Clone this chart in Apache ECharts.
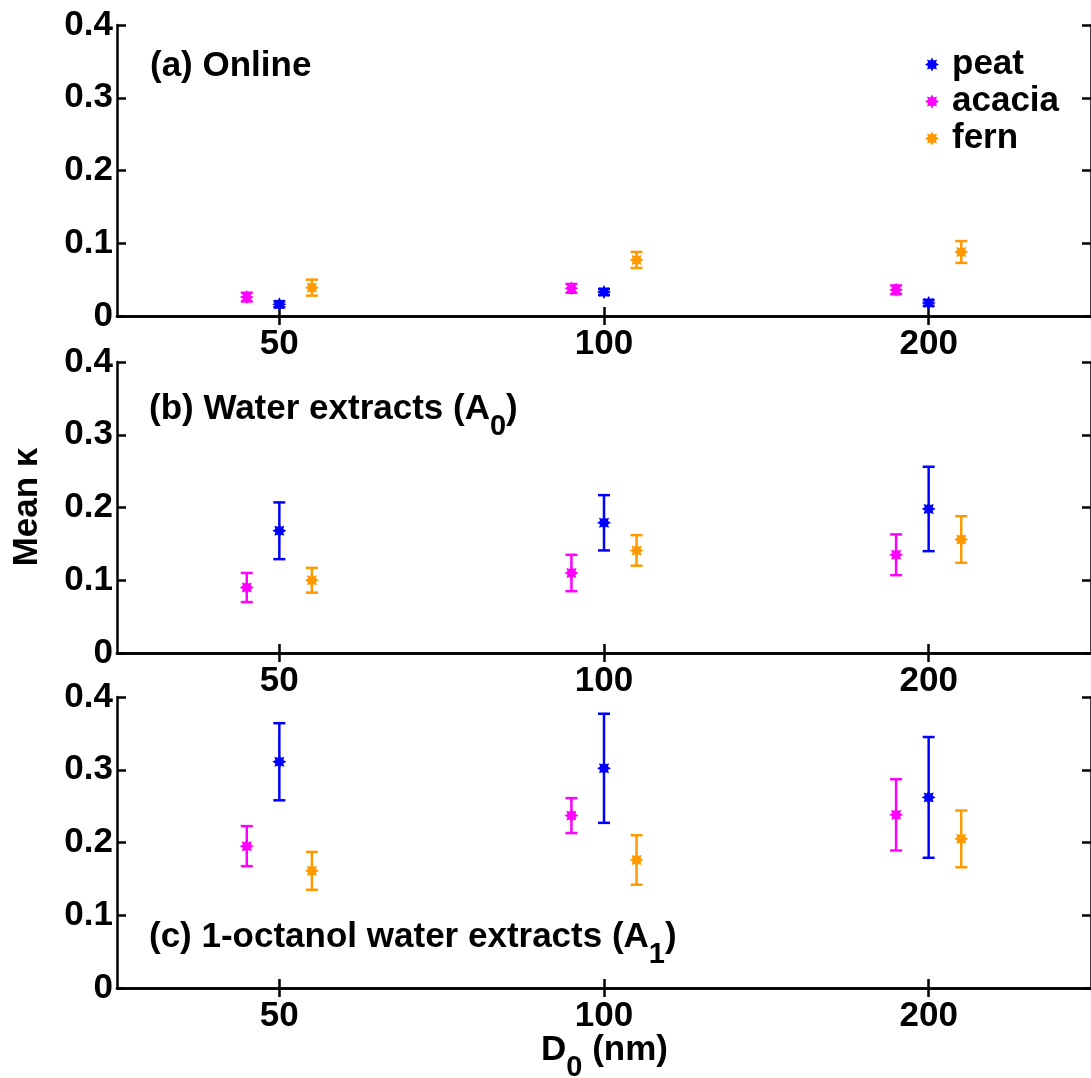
<!DOCTYPE html>
<html>
<head>
<meta charset="utf-8">
<script src="https://cdn.jsdelivr.net/npm/echarts@6/dist/echarts.min.js"></script>
<style>
html,body{margin:0;padding:0;background:#fff;}
#chart{width:1091px;height:1078px;}
</style>
</head>
<body>
<div id="chart"></div>
<script>
// ---------------- data ----------------
const diameters = [50, 100, 200];               // D0 (nm)
const xTicks = [50, 100, 200];
const yTicks = [0, 0.1, 0.2, 0.3, 0.4];
const seriesNames = ['peat', 'acacia', 'fern'];

// (a) Online
const onlinePeat = [0.016, 0.033, 0.018];
const onlinePeatErr = [0.004, 0.004, 0.004];
const onlineAcacia = [0.026, 0.038, 0.036];
const onlineAcaciaErr = [0.006, 0.006, 0.006];
const onlineFern = [0.039, 0.077, 0.088];
const onlineFernErr = [0.011, 0.011, 0.015];

// (b) Water extracts (A0)
const waterPeat = [0.168, 0.179, 0.198];
const waterPeatErr = [0.039, 0.038, 0.058];
const waterAcacia = [0.090, 0.110, 0.135];
const waterAcaciaErr = [0.020, 0.025, 0.028];
const waterFern = [0.100, 0.141, 0.156];
const waterFernErr = [0.017, 0.021, 0.032];

// (c) 1-octanol water extracts (A1)
const octPeat = [0.311, 0.302, 0.262];
const octPeatErr = [0.053, 0.075, 0.083];
const octAcacia = [0.195, 0.237, 0.238];
const octAcaciaErr = [0.0275, 0.024, 0.049];
const octFern = [0.161, 0.176, 0.205];
const octFernErr = [0.026, 0.034, 0.039];

// ---------------- styling ----------------
const FONT = '"Liberation Sans", Arial, Helvetica, sans-serif';
const FS = 35;
const colors = {peat: '#0000FF', acacia: '#FF00FF', fern: '#FF9900'};
const dodge = {peat: 1, acacia: 1 / 1.072, fern: 1.072};   // horizontal offset factor on log axis

function starPath() {
  const n = 8, R = 10, r = 6.2;
  let d = '';
  for (let i = 0; i < 2 * n; i++) {
    const ang = Math.PI * i / n - Math.PI / 2;
    const rad = i % 2 === 0 ? R : r;
    const x = (R + rad * Math.cos(ang)).toFixed(3);
    const y = (R + rad * Math.sin(ang)).toFixed(3);
    d += (i === 0 ? 'M' : 'L') + x + ' ' + y + ' ';
  }
  return 'path://' + d + 'Z';
}
const STAR = starPath();

const panels = [
  {peat: [onlinePeat, onlinePeatErr], acacia: [onlineAcacia, onlineAcaciaErr], fern: [onlineFern, onlineFernErr]},
  {peat: [waterPeat, waterPeatErr], acacia: [waterAcacia, waterAcaciaErr], fern: [waterFern, waterFernErr]},
  {peat: [octPeat, octPeatErr], acacia: [octAcacia, octAcaciaErr], fern: [octFern, octFernErr]}
];

const gridTops = [25, 362, 697];
const gridH = 291;
const xMin = 50 / Math.SQRT2, xMax = 200 * Math.SQRT2;

const grids = [], xAxes = [], yAxes = [], series = [];
const lineW = 2.5;

gridTops.forEach((top, i) => {
  grids.push({left: 117, right: -6, top: top, height: gridH, containLabel: false});
  const xBase = {
    gridIndex: i, type: 'log', logBase: 10, min: xMin, max: xMax,
    axisLine: {show: true, lineStyle: {color: '#000', width: lineW}},
    axisTick: {show: true, inside: true, length: 9, customValues: xTicks, lineStyle: {color: '#000', width: lineW}},
    splitLine: {show: false}, minorTick: {show: false}
  };
  xAxes.push(Object.assign({}, xBase, {
    position: 'bottom',
    axisLabel: {show: true, customValues: xTicks, margin: 11, color: '#000', fontSize: FS, fontWeight: 'bold', fontFamily: FONT}
  }));
  xAxes.push(Object.assign({}, xBase, {position: 'top', axisLabel: {show: false}}));
  const yBase = {
    gridIndex: i, type: 'value', min: 0, max: 0.4, interval: 0.1,
    axisLine: {show: true, lineStyle: {color: '#000', width: lineW}},
    axisTick: {show: true, inside: true, length: 9, lineStyle: {color: '#000', width: lineW}},
    splitLine: {show: false}
  };
  yAxes.push(Object.assign({}, yBase, {
    position: 'left',
    axisLabel: {show: true, margin: 4, color: '#000', fontSize: FS, fontWeight: 'bold', fontFamily: FONT,
      formatter: v => (Math.abs(v) < 1e-9 ? '0' : v.toFixed(1))}
  }));
  yAxes.push(Object.assign({}, yBase, {position: 'right', axisLabel: {show: false}}));

  seriesNames.forEach(name => {
    const [vals, errs] = panels[i][name];
    const errData = diameters.map((d, k) => [d * dodge[name], vals[k] - errs[k], vals[k] + errs[k]]);
    series.push({
      type: 'custom', name: name + '-err', xAxisIndex: 2 * i, yAxisIndex: 2 * i,
      encode: {x: 0, y: [1, 2]}, silent: true, z: 2,
      data: errData,
      renderItem: (params, api) => {
        const x = api.value(0), lo = api.value(1), hi = api.value(2);
        const pLo = api.coord([x, lo]), pHi = api.coord([x, hi]);
        const hw = 6;
        const st = {stroke: colors[name], lineWidth: 2.5};
        return {type: 'group', children: [
          {type: 'line', shape: {x1: pLo[0], y1: pLo[1], x2: pHi[0], y2: pHi[1]}, style: st},
          {type: 'line', shape: {x1: pLo[0] - hw, y1: pLo[1], x2: pLo[0] + hw, y2: pLo[1]}, style: st},
          {type: 'line', shape: {x1: pHi[0] - hw, y1: pHi[1], x2: pHi[0] + hw, y2: pHi[1]}, style: st}
        ]};
      }
    });
    series.push({
      type: 'scatter', name: name, xAxisIndex: 2 * i, yAxisIndex: 2 * i, z: 3,
      symbol: STAR, symbolSize: 14,
      itemStyle: {color: colors[name], opacity: 1},
      data: diameters.map((d, k) => [d * dodge[name], vals[k]])
    });
  });
});

const chart = echarts.init(document.getElementById('chart'), null, {renderer: 'canvas'});
const titleRich = {
  n: {fontSize: FS, fontWeight: 'bold', fontFamily: FONT, color: '#000', padding: [0, 0, 14, 0], verticalAlign: 'bottom'},
  s: {fontSize: 29, fontWeight: 'bold', fontFamily: FONT, color: '#000', verticalAlign: 'bottom'}
};
chart.setOption({
  animation: false,
  backgroundColor: '#fff',
  grid: grids,
  xAxis: xAxes,
  yAxis: yAxes,
  legend: {
    orient: 'vertical', left: 920, top: 42, itemWidth: 26, itemHeight: 14, itemGap: 2,
    data: seriesNames,
    textStyle: {fontSize: FS, fontWeight: 'bold', fontFamily: FONT, color: '#000', padding: [0, 0, 0, 2]}
  },
  graphic: [
    {type: 'text', left: 150, top: 49, style: {text: '(a) Online', font: 'bold ' + FS + 'px ' + FONT, fill: '#000'}},
    {type: 'text', left: 149, top: 392, style: {text: '{n|(b) Water extracts (A}{s|0}{n|)}', rich: titleRich}},
    {type: 'text', left: 149, top: 920, style: {text: '{n|(c) 1-octanol water extracts (A}{s|1}{n|)}', rich: titleRich}},
    {type: 'text', left: 541, top: 1033, style: {text: '{n|D}{s|0}{n| (nm)}', rich: titleRich}},
    {type: 'text', x: 27, y: 507, rotation: Math.PI / 2,
      style: {text: 'Mean κ', font: 'bold ' + FS + 'px ' + FONT, fill: '#000', align: 'center', verticalAlign: 'middle'}}
  ],
  series: series
});
</script>
</body>
</html>
